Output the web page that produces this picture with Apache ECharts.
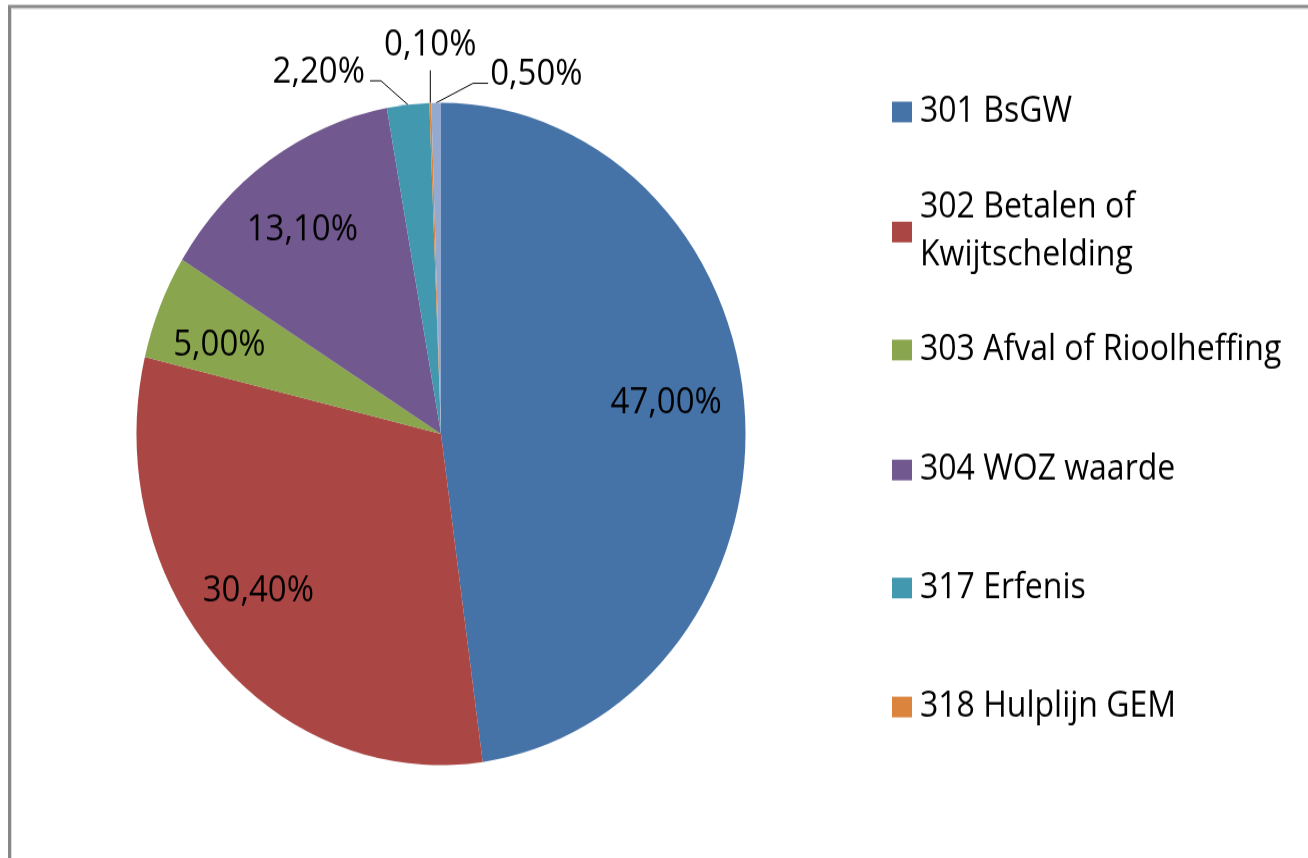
<!DOCTYPE html>
<html>
<head>
<meta charset="utf-8">
<script src="https://cdn.jsdelivr.net/npm/echarts/dist/echarts.min.js"></script>
<style>
  html, body { margin: 0; padding: 0; background: #fff; width: 1308px; height: 858px; overflow: hidden; }
  /* the source picture is a little stretched vertically, so draw at 1308x789 and scale */
  #main { width: 1308px; height: 789px; transform: scaleY(1.0875); transform-origin: 0 0; }
</style>
</head>
<body>
<div id="main"></div>
<script>
var names = ['301 BsGW', '302 Betalen of Kwijtschelding', '303 Afval of Rioolheffing',
	'304 WOZ waarde', '317 Erfenis', '318 Hulplijn GEM', '319 Overig'];
var values = [47.0, 30.4, 5.0, 13.1, 2.2, 0.1, 0.5];
var colors = ['#4572A7', '#AA4643', '#89A54E', '#71588F', '#4198AF', '#DB843D', '#93A9CF'];
// legend shows only the first six entries (last one is cut off in the source)
var legendNames = names.slice(0, 6);

var S = 1.0875;
var FONT = 'Open Sans';
var legendCenters = [112, 232, 350, 470, 588, 707]; // y of each legend icon in the picture

function fmt(v) {
	return v.toFixed(2).replace('.', ',') + '%';
}

var chart = echarts.init(document.getElementById('main'));

var legends = legendNames.map(function (n, i) {
	var c = legendCenters[i] / S;
	var twoLine = i === 1;
	return {
		left: 892,
		top: twoLine ? c - 66 : c - 22,
		orient: 'vertical',
		padding: 0,
		icon: 'rect',
		itemWidth: 20,
		itemHeight: 19,
		selectedMode: false,
		data: [n],
		formatter: function (name) {
			return twoLine ? name.replace(' of ', ' of\n') : name;
		},
		textStyle: {
			fontFamily: FONT,
			fontSize: 32,
			color: '#000',
			lineHeight: 44,
			padding: twoLine ? [44, 0, 0, 3] : [0, 0, 0, 3]
		}
	};
});

var pieData = values.map(function (v, i) {
	return {
		name: names[i],
		value: v,
		itemStyle: { color: colors[i] },
		label: { show: i >= 4 },
		labelLine: { show: i >= 4 }
	};
});

var innerLabelData = values.map(function (v, i) {
	return {
		name: names[i],
		value: v,
		label: { show: i < 4 }
	};
});

var option = {
	backgroundColor: '#fff',
	animation: false,
	legend: legends,
	graphic: [
		{
			type: 'rect',
			shape: { x: 9.5, y: 6.1, width: 3000, height: 3000 },
			style: { fill: 'none', stroke: '#878787', lineWidth: 3 }
		},
		{
			type: 'rect',
			shape: { x: 11.5, y: 8.2, width: 3000, height: 3000 },
			style: { fill: 'none', stroke: '#dedede', lineWidth: 1 }
		}
	],
	series: [
		{
			type: 'pie',
			center: [441, 399],
			radius: 304.5,
			startAngle: 90,
			clockwise: true,
			silent: true,
			avoidLabelOverlap: false,
			data: pieData,
			label: {
				position: 'outside',
				fontFamily: FONT,
				fontSize: 33,
				color: '#000',
				formatter: function (p) { return fmt(p.value); }
			},
			labelLine: {
				length: 20,
				length2: 10,
				lineStyle: { color: '#000', width: 1 }
			},
			labelLayout: function (params) {
				var pts = params.labelLinePoints;
				if (!pts) return;
				var p0 = pts[0];
				var i = params.dataIndex;
				var p1, p2;
				if (i === 4) {
					p1 = [p0[0] - 27, p0[1] - 22];
					p2 = [p1[0] - 11, p1[1]];
					return { x: p2[0] - 5, y: p2[1] - 8, align: 'right', verticalAlign: 'middle', labelLinePoints: [p0, p1, p2] };
				}
				if (i === 5) {
					p1 = [p0[0], p0[1] - 30];
					return { x: p0[0], y: p1[1] - 23, align: 'center', verticalAlign: 'middle', labelLinePoints: [p0, p1, p1] };
				}
				if (i === 6) {
					p1 = [p0[0] + 37, p0[1] - 18];
					p2 = [p1[0] + 15, p1[1]];
					return { x: p2[0] + 2, y: p2[1] - 8, align: 'left', verticalAlign: 'middle', labelLinePoints: [p0, p1, p2] };
				}
			}
		},
		{
			// transparent ring, only used to put the percentages at ~3/4 of the radius
			type: 'pie',
			center: [441, 399],
			radius: [161, 304.5],
			startAngle: 90,
			clockwise: true,
			silent: true,
			itemStyle: { color: 'rgba(0,0,0,0)' },
			data: innerLabelData,
			label: {
				position: 'inside',
				fontFamily: FONT,
				fontSize: 33,
				color: '#000',
				formatter: function (p) { return fmt(p.value); }
			},
			labelLine: { show: false },
			labelLayout: function (params) {
				// small nudges so the labels sit where Excel put them
				var nudge = { 0: [-10, -12], 1: [-8, -14], 2: [-4, 9], 3: [-6, 7] };
				var d = nudge[params.dataIndex];
				if (d) return { dx: d[0], dy: d[1] };
			}
		}
	]
};

chart.setOption(option);
</script>
</body>
</html>
